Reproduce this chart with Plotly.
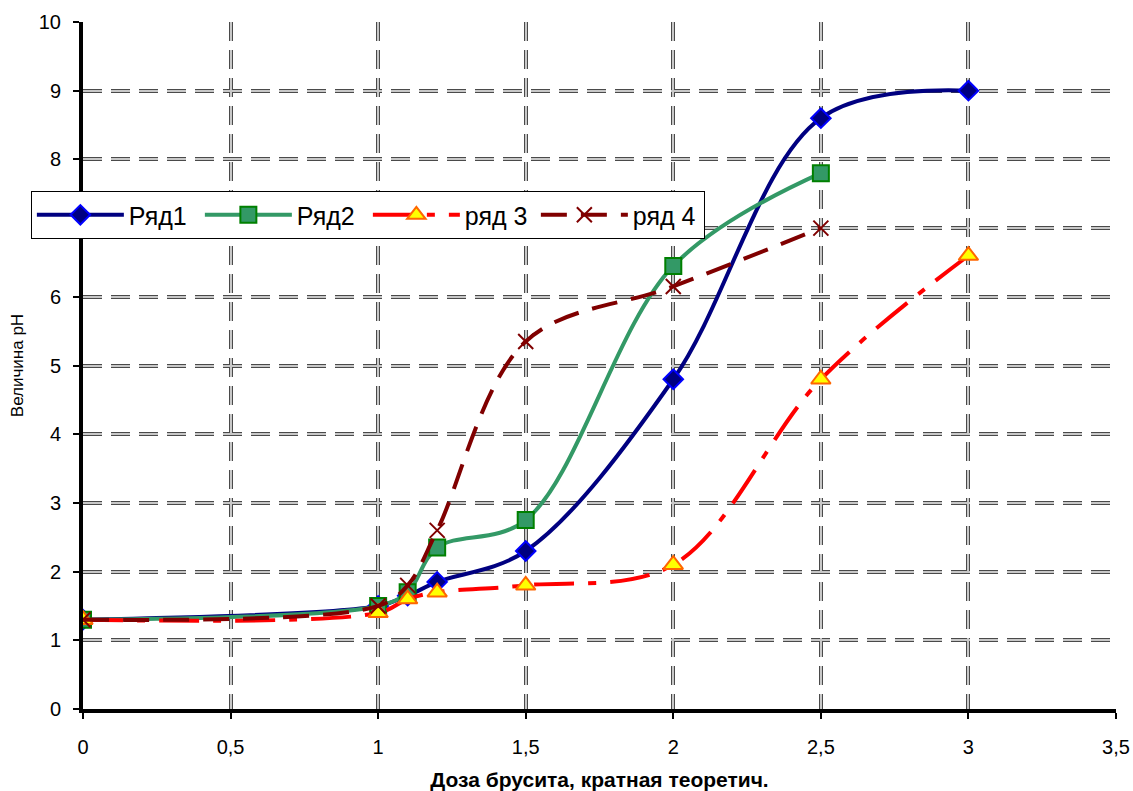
import plotly.graph_objects as go

# Доза брусита (кратная теоретической) и величина pH для четырёх рядов опытов
dose_1 = [0, 1, 1.1, 1.2, 1.5, 2, 2.5, 3]
ph_1 = [1.3, 1.5, 1.65, 1.85, 2.3, 4.8, 8.6, 9.0]

dose_2 = [0, 1, 1.1, 1.2, 1.5, 2, 2.5]
ph_2 = [1.3, 1.5, 1.7, 2.35, 2.75, 6.45, 7.8]

dose_3 = [0, 1, 1.1, 1.2, 1.5, 2, 2.5, 3]
ph_3 = [1.3, 1.4, 1.6, 1.7, 1.8, 2.1, 4.8, 6.6]

dose_4 = [0, 1, 1.1, 1.2, 1.5, 2, 2.5]
ph_4 = [1.3, 1.5, 1.8, 2.6, 5.35, 6.15, 7.0]

x_ticks = [0, 0.5, 1, 1.5, 2, 2.5, 3, 3.5]
y_ticks = list(range(0, 11))

FONT = "Arial, Liberation Sans, sans-serif"

fig = go.Figure()

# empty trace that brings the overlay axes (light centre of the grid) to life
fig.add_trace(go.Scatter(x=[], y=[], xaxis="x2", yaxis="y2",
                         showlegend=False, hoverinfo="skip"))

fig.add_trace(go.Scatter(
    x=dose_1, y=ph_1, name="Ряд1", mode="lines+markers",
    line=dict(color="#000080", width=4, shape="spline", smoothing=1),
    marker=dict(symbol="diamond", size=15, color="#000080",
                line=dict(color="#0000FF", width=2)),
))
fig.add_trace(go.Scatter(
    x=dose_2, y=ph_2, name="Ряд2", mode="lines+markers",
    line=dict(color="#339966", width=4, shape="spline", smoothing=1),
    marker=dict(symbol="square", size=16, color="#339966",
                line=dict(color="#008000", width=2)),
))
fig.add_trace(go.Scatter(
    x=dose_3, y=ph_3, name="ряд 3", mode="lines+markers",
    line=dict(color="#FF0000", width=4, shape="spline", smoothing=1,
              dash="40px,14px,8px,14px"),
    marker=dict(symbol="triangle-up", size=17, color="#FFFF00",
                line=dict(color="#FF6600", width=2)),
))
fig.add_trace(go.Scatter(
    x=dose_4, y=ph_4, name="ряд 4", mode="lines+markers",
    line=dict(color="#800000", width=4, shape="spline", smoothing=1,
              dash="26px,14px"),
    marker=dict(symbol="x-thin", size=15, color="#800000",
                line=dict(color="#800000", width=2)),
))

DASH = "19px,9px"
tickfont = dict(family=FONT, size=20, color="black")

fig.update_layout(
    width=1133, height=791,
    margin=dict(l=83, r=17, t=22, b=82),
    plot_bgcolor="white", paper_bgcolor="white",
    separators=", ",
    showlegend=True,
    xaxis=dict(
        range=[0, 3.5], tickvals=x_ticks, zeroline=False,
        showline=True, linecolor="black", linewidth=4,
        ticks="outside", ticklen=6, tickwidth=2, tickcolor="black",
        ticklabelstandoff=11, tickfont=tickfont,
        showgrid=True, gridcolor="#4a4a4a", gridwidth=4, griddash=DASH,
        title=dict(text="<b>Доза брусита, кратная теоретич.</b>",
                   font=dict(family=FONT, size=21, color="black"),
                   standoff=18),
        automargin=False,
    ),
    yaxis=dict(
        range=[0, 10], tickvals=y_ticks, zeroline=False,
        showline=True, linecolor="black", linewidth=4,
        ticks="outside", ticklen=6, tickwidth=2, tickcolor="black",
        ticklabelstandoff=8, tickfont=tickfont,
        showgrid=True, gridcolor="#4a4a4a", gridwidth=4, griddash=DASH,
        title=dict(text="Величина pH",
                   font=dict(family=FONT, size=17, color="black"),
                   standoff=12),
        automargin=False,
    ),
    xaxis2=dict(
        range=[0, 3.5], tickvals=x_ticks, overlaying="x", anchor="y2",
        showgrid=True, gridcolor="#c8c8c8", gridwidth=2, griddash=DASH,
        showticklabels=False, ticks="", showline=False, zeroline=False,
        automargin=False,
    ),
    yaxis2=dict(
        range=[0, 10], tickvals=y_ticks, overlaying="y", anchor="x2",
        showgrid=True, gridcolor="#c8c8c8", gridwidth=2, griddash=DASH,
        showticklabels=False, ticks="", showline=False, zeroline=False,
        automargin=False,
    ),
    legend=dict(
        orientation="h", x=0.602, y=0.719, xanchor="right", yanchor="middle",
        bgcolor="white", bordercolor="black", borderwidth=1,
        font=dict(family=FONT, size=25, color="black"),
        itemwidth=87, entrywidth=66, entrywidthmode="pixels",
    ),
)

fig.write_html("out.html")
